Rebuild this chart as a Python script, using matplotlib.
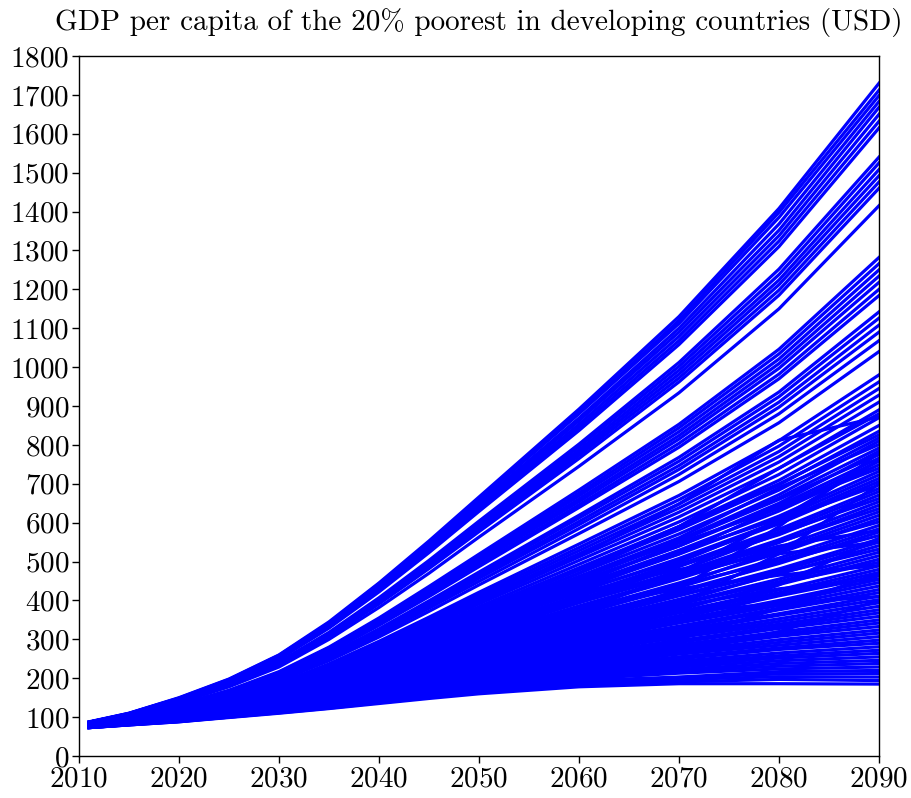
import matplotlib
matplotlib.use("Agg")
import matplotlib.pyplot as plt

plt.rcParams['font.family'] = 'serif'
plt.rcParams['font.serif'] = ['cmr10']
plt.rcParams['mathtext.fontset'] = 'cm'
plt.rcParams['axes.formatter.use_mathtext'] = True

# years sampled along each trajectory
years = [2011, 2015, 2020, 2025, 2030, 2035, 2040, 2045, 2050, 2060, 2070, 2080, 2090]

# GDP per capita (USD) of the poorest 20%
top_group = [
    [88, 110, 150, 198, 260, 345, 445, 553, 666, 892, 1130, 1408, 1730],
    [87, 110, 149, 197, 259, 342, 443, 548, 662, 884, 1120, 1398, 1712],
    [86, 109, 148, 196, 256, 340, 440, 544, 658, 880, 1112, 1385, 1698],
    [87, 109, 148, 195, 255, 338, 436, 541, 651, 869, 1100, 1368, 1683],
    [87, 109, 148, 194, 254, 336, 433, 537, 646, 862, 1090, 1352, 1668],
    [87, 108, 147, 193, 252, 333, 429, 532, 640, 853, 1079, 1338, 1650],
    [87, 108, 146, 192, 250, 331, 425, 527, 634, 845, 1068, 1324, 1632],
    [87, 108, 145, 191, 249, 329, 422, 523, 629, 837, 1058, 1310, 1615],
]
upper_group = [
    [86, 106, 142, 186, 242, 318, 407, 503, 604, 802, 1012, 1252, 1540],
    [86, 106, 142, 185, 240, 315, 404, 499, 599, 795, 1002, 1238, 1525],
    [86, 106, 141, 184, 238, 313, 400, 495, 593, 787, 992, 1224, 1508],
    [86, 105, 140, 183, 237, 311, 397, 491, 588, 780, 982, 1212, 1492],
    [86, 105, 140, 182, 235, 308, 394, 487, 583, 773, 972, 1198, 1476],
    [85, 105, 139, 181, 234, 306, 391, 482, 577, 765, 962, 1185, 1460],
    [85, 104, 137, 178, 229, 300, 382, 470, 563, 745, 934, 1150, 1415],
]
middle_group = [
    [84, 101, 132, 169, 217, 280, 355, 436, 519, 684, 853, 1046, 1282],
    [84, 101, 131, 168, 215, 278, 352, 432, 514, 676, 844, 1034, 1266],
    [83, 101, 131, 167, 213, 276, 349, 427, 509, 669, 834, 1021, 1250],
    [83, 100, 130, 166, 212, 273, 345, 423, 504, 661, 824, 1009, 1234],
    [83, 100, 129, 165, 210, 271, 342, 419, 499, 654, 815, 997, 1218],
    [83, 100, 129, 164, 209, 269, 339, 414, 492, 646, 804, 982, 1200],
    [83, 99, 128, 163, 207, 266, 336, 410, 487, 639, 794, 970, 1184],
    [82, 99, 126, 160, 203, 260, 327, 399, 473, 619, 768, 936, 1142],
    [82, 98, 126, 159, 201, 258, 324, 395, 468, 612, 758, 924, 1126],
    [82, 98, 125, 158, 200, 255, 320, 390, 462, 603, 747, 910, 1108],
    [82, 98, 124, 157, 198, 253, 317, 385, 457, 595, 737, 897, 1090],
    [82, 97, 123, 156, 196, 250, 312, 380, 449, 585, 724, 880, 1068],
    [81, 97, 122, 154, 193, 245, 306, 372, 440, 572, 706, 857, 1040],
]
lower_group = [
    [81, 95, 120, 150, 187, 237, 295, 357, 421, 545, 670, 811, 980],
    [81, 95, 119, 149, 185, 234, 291, 352, 415, 536, 659, 797, 962],
    [80, 95, 119, 148, 184, 232, 288, 347, 409, 528, 648, 783, 945],
    [80, 94, 118, 147, 182, 229, 284, 343, 403, 520, 638, 770, 928],
    [80, 94, 117, 145, 180, 227, 280, 338, 397, 512, 627, 756, 910],
    [80, 94, 116, 144, 179, 225, 279, 336, 396, 515, 648, 812, 872],
    [80, 94, 116, 144, 178, 224, 276, 333, 391, 503, 615, 740, 890],
    [80, 93, 115, 143, 176, 221, 272, 327, 384, 493, 602, 724, 870],
    [79, 93, 115, 142, 175, 218, 268, 322, 378, 484, 590, 709, 850],
]
bulk_group = [
    [79, 93, 114, 141, 173, 216, 265, 318, 373, 478, 582, 697, 835],
    [79, 92, 114, 140, 172, 215, 264, 316, 370, 480, 590, 700, 826],
    [79, 92, 113, 140, 171, 213, 262, 314, 367, 470, 571, 684, 818],
    [79, 92, 113, 139, 171, 212, 260, 312, 365, 460, 555, 672, 810],
    [79, 92, 113, 138, 170, 211, 259, 309, 362, 462, 561, 690, 801],
    [79, 92, 112, 138, 169, 210, 257, 307, 359, 458, 555, 664, 792],
    [79, 92, 112, 137, 168, 208, 255, 305, 356, 450, 540, 650, 784],
    [79, 91, 112, 137, 167, 207, 253, 303, 353, 455, 552, 660, 775],
    [79, 91, 111, 136, 166, 206, 252, 300, 350, 446, 540, 644, 766],
    [79, 91, 111, 136, 166, 205, 250, 298, 348, 440, 548, 637, 758],
    [78, 91, 111, 135, 165, 203, 248, 296, 345, 438, 529, 630, 749],
    [78, 91, 110, 135, 164, 202, 246, 293, 342, 434, 520, 640, 740],
    [78, 91, 110, 134, 163, 201, 245, 291, 339, 430, 519, 617, 732],
    [78, 90, 110, 133, 162, 200, 243, 289, 336, 426, 525, 610, 723],
    [78, 90, 109, 133, 161, 198, 241, 287, 333, 422, 508, 603, 714],
    [78, 90, 109, 132, 161, 197, 240, 285, 331, 425, 503, 597, 706],
    [78, 90, 109, 132, 160, 196, 238, 282, 328, 414, 498, 605, 697],
    [78, 90, 108, 131, 159, 195, 236, 280, 325, 410, 492, 583, 688],
    [78, 90, 108, 131, 158, 193, 234, 278, 322, 400, 487, 576, 680],
    [78, 89, 108, 130, 157, 192, 233, 275, 319, 402, 490, 569, 671],
    [78, 89, 107, 130, 156, 191, 231, 273, 316, 398, 476, 572, 662],
    [78, 89, 107, 129, 156, 190, 229, 271, 314, 394, 471, 556, 654],
    [77, 89, 106, 128, 155, 188, 227, 269, 311, 395, 466, 549, 645],
    [77, 89, 106, 128, 154, 187, 225, 266, 308, 386, 460, 550, 636],
    [77, 89, 106, 127, 153, 186, 224, 264, 305, 382, 456, 536, 628],
    [77, 88, 105, 127, 152, 185, 222, 262, 302, 378, 462, 529, 619],
    [77, 88, 105, 126, 151, 183, 220, 259, 299, 374, 445, 522, 610],
    [77, 88, 105, 126, 150, 182, 219, 257, 297, 372, 440, 530, 602],
    [77, 88, 104, 125, 150, 181, 217, 255, 294, 366, 434, 509, 593],
    [77, 88, 104, 125, 149, 180, 215, 253, 291, 362, 440, 502, 584],
    [77, 88, 104, 124, 148, 178, 213, 251, 288, 358, 424, 495, 576],
    [77, 87, 103, 123, 147, 177, 212, 248, 285, 354, 418, 500, 567],
    [77, 87, 103, 123, 146, 176, 210, 246, 282, 350, 413, 481, 558],
    [77, 87, 103, 122, 145, 175, 208, 244, 280, 346, 412, 475, 550],
    [76, 87, 102, 122, 145, 173, 206, 241, 277, 342, 403, 468, 541],
    [76, 87, 102, 121, 144, 172, 205, 239, 274, 338, 397, 470, 532],
    [76, 87, 102, 121, 143, 171, 203, 237, 271, 334, 392, 455, 524],
    [76, 86, 101, 120, 142, 170, 201, 235, 268, 330, 390, 448, 515],
    [76, 86, 101, 120, 141, 168, 199, 232, 265, 326, 381, 441, 506],
    [76, 86, 101, 119, 140, 167, 198, 230, 263, 322, 376, 445, 498],
    [76, 86, 100, 118, 140, 166, 196, 228, 260, 318, 371, 427, 489],
    [76, 86, 100, 118, 139, 165, 194, 225, 257, 314, 368, 420, 480],
    [76, 86, 100, 117, 138, 163, 193, 223, 254, 310, 361, 414, 472],
    [76, 85, 99, 117, 137, 162, 191, 221, 251, 306, 355, 412, 463],
    [76, 85, 99, 116, 136, 161, 189, 219, 248, 302, 350, 400, 454],
    [76, 85, 98, 116, 135, 160, 187, 216, 245, 298, 345, 394, 446],
    [75, 85, 98, 115, 134, 158, 186, 214, 243, 294, 342, 387, 437],
    [75, 85, 98, 115, 134, 157, 184, 212, 240, 290, 334, 380, 428],
    [75, 85, 97, 114, 133, 156, 182, 210, 237, 286, 329, 376, 420],
    [75, 84, 97, 113, 132, 155, 180, 207, 234, 282, 324, 366, 411],
    [75, 84, 97, 113, 131, 153, 179, 205, 231, 278, 318, 362, 402],
    [75, 84, 96, 112, 130, 152, 177, 203, 228, 274, 313, 353, 394],
    [75, 84, 96, 112, 129, 151, 175, 200, 225, 270, 308, 346, 385],
    [75, 84, 96, 111, 129, 150, 173, 198, 223, 266, 305, 339, 376],
    [75, 84, 95, 111, 128, 148, 172, 196, 220, 262, 297, 333, 368],
    [75, 83, 95, 110, 127, 147, 170, 194, 217, 258, 292, 328, 359],
    [75, 83, 95, 110, 126, 146, 168, 191, 214, 254, 286, 319, 350],
    [75, 83, 94, 109, 125, 145, 166, 189, 211, 250, 282, 313, 342],
    [74, 83, 94, 108, 124, 143, 165, 187, 208, 246, 276, 308, 333],
    [74, 83, 94, 108, 124, 142, 163, 184, 206, 242, 271, 299, 324],
    [74, 83, 93, 107, 123, 141, 161, 182, 203, 238, 266, 292, 316],
    [74, 82, 93, 107, 122, 140, 159, 180, 200, 234, 262, 285, 307],
    [74, 82, 93, 106, 121, 138, 158, 178, 197, 230, 255, 278, 298],
    [74, 82, 92, 106, 120, 137, 156, 176, 194, 226, 250, 274, 290],
    [74, 82, 92, 105, 119, 136, 154, 173, 191, 222, 244, 265, 281],
    [74, 82, 91, 105, 118, 135, 152, 171, 188, 218, 239, 258, 272],
    [74, 82, 91, 104, 118, 133, 151, 169, 186, 214, 234, 252, 264],
    [74, 81, 91, 103, 117, 132, 149, 166, 183, 210, 229, 245, 255],
    [74, 81, 90, 103, 116, 131, 147, 164, 180, 206, 223, 238, 246],
    [74, 81, 90, 102, 115, 130, 146, 162, 177, 202, 218, 231, 238],
    [73, 81, 90, 102, 114, 128, 144, 160, 174, 198, 213, 224, 229],
    [73, 81, 89, 101, 113, 127, 142, 157, 171, 194, 203, 217, 220],
    [73, 81, 89, 101, 113, 126, 140, 155, 169, 190, 202, 211, 212],
    [73, 80, 89, 100, 112, 125, 139, 153, 166, 186, 197, 204, 203],
    [73, 80, 88, 100, 111, 123, 137, 150, 163, 182, 191, 197, 194],
    [73, 80, 88, 99, 110, 122, 135, 148, 160, 178, 186, 186, 185],
]
# trajectories that cross the others (fast then flat, or slow then fast)
crossing_group = [
    [78, 90, 110, 134, 163, 201, 245, 291, 339, 420, 480, 520, 550],
    [77, 89, 107, 129, 156, 190, 229, 271, 314, 380, 430, 465, 490],
    [76, 87, 103, 122, 146, 176, 210, 246, 282, 335, 370, 392, 410],
    [78, 90, 108, 131, 159, 195, 236, 280, 325, 405, 470, 540, 580],
    [75, 85, 97, 114, 133, 156, 182, 210, 237, 300, 390, 520, 700],
    [76, 86, 100, 118, 139, 165, 194, 225, 257, 330, 430, 590, 780],
    [75, 84, 96, 112, 129, 151, 175, 200, 225, 280, 350, 440, 560],
    [74, 83, 94, 108, 124, 143, 165, 187, 208, 250, 300, 380, 470],
    [74, 82, 92, 105, 119, 136, 154, 173, 191, 225, 265, 320, 400],
    [77, 88, 104, 125, 149, 180, 215, 253, 291, 370, 470, 610, 760],
    [79, 92, 113, 139, 171, 212, 260, 312, 365, 470, 590, 740, 880],
    [76, 86, 101, 120, 142, 170, 201, 235, 268, 330, 385, 430, 455],
]

all_lines = (top_group + upper_group + middle_group + lower_group
             + bulk_group + crossing_group)

fig = plt.figure(figsize=(9.12, 7.98), dpi=100)
ax = fig.add_axes([0.0866, 0.0526, 0.8772, 0.8772])

for vals in all_lines:
    ax.plot(years, vals, color='#0000ff', lw=2.3, solid_joinstyle='round')

ax.set_xlim(2010, 2090)
ax.set_ylim(0, 1800)
ax.set_xticks(range(2010, 2091, 10))
ax.set_yticks(range(0, 1801, 100))
ax.tick_params(direction='out', length=5, width=1, labelsize=21, pad=2,
               top=False, right=False)
for s in ax.spines.values():
    s.set_linewidth(1.0)

ax.set_title('GDP per capita of the 20% poorest in developing countries (USD)',
             fontsize=21, pad=19)

fig.savefig('out.png', dpi=100)
